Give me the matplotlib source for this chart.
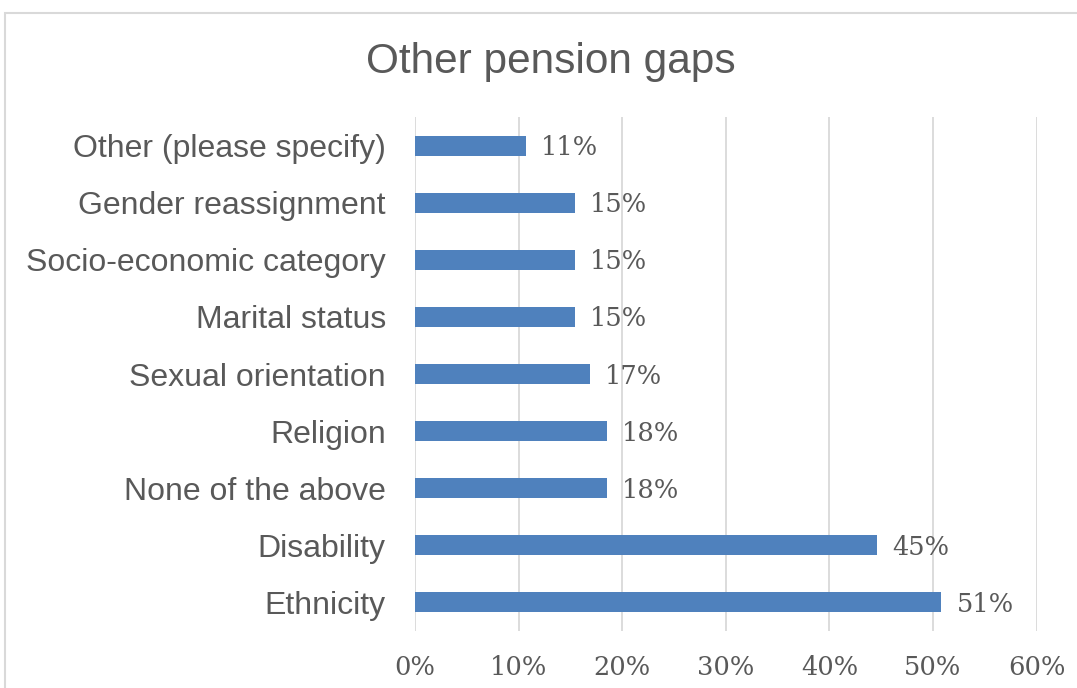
import matplotlib.pyplot as plt
from matplotlib.patches import Rectangle

# data (top to bottom as shown)
categories = ["Other (please specify)", "Gender reassignment", "Socio-economic category",
              "Marital status", "Sexual orientation", "Religion", "None of the above",
              "Disability", "Ethnicity"]
values = [0.107, 0.154, 0.154, 0.154, 0.169, 0.185, 0.185, 0.446, 0.508]
value_labels = ["11%", "15%", "15%", "15%", "17%", "18%", "18%", "45%", "51%"]
xticks = [0, 0.1, 0.2, 0.3, 0.4, 0.5, 0.6]
xtick_labels = ["0%", "10%", "20%", "30%", "40%", "50%", "60%"]

text_color = "#595959"
grid_color = "#D9D9D9"
bar_color = "#4F81BD"

fig = plt.figure(figsize=(10.77, 6.88), dpi=100)
ax = fig.add_axes([415/1077, 57/688, 621.5/1077, 514/688])

pos = range(len(categories))
ax.barh(pos, values, height=0.35, color=bar_color, zorder=3)
ax.set_ylim(len(categories) - 0.5, -0.5)
ax.set_xlim(0, 0.6)

ax.set_yticks(list(pos))
ax.set_yticklabels(categories, family="Liberation Sans", fontsize=23, color=text_color)
ax.set_xticks(xticks)
ax.set_xticklabels(xtick_labels, family="DejaVu Serif", fontsize=18.5, color=text_color)
ax.tick_params(axis="both", length=0)
ax.tick_params(axis="y", pad=21)
ax.tick_params(axis="x", pad=17)

ax.grid(axis="x", color=grid_color, linewidth=1.3, zorder=0)
for s in ax.spines.values():
    s.set_visible(False)

for i, (v, lab) in enumerate(zip(values, value_labels)):
    ax.annotate(lab, (v, i), xytext=(11, -1.5), textcoords="offset points",
                ha="left", va="center", family="DejaVu Serif", fontsize=18.5,
                color=text_color)

fig.text(551/1077, 1 - 62/688, "Other pension gaps", ha="center", va="center",
         family="Liberation Sans", fontsize=30.5, color=text_color)

# chart border (cut off at right and bottom)
fig.patches.append(Rectangle((5/1077, -0.1), 1.2, 1.1 - 13/688, transform=fig.transFigure,
                             fill=False, edgecolor=grid_color, linewidth=1.5))

plt.savefig("out.png", dpi=100)
